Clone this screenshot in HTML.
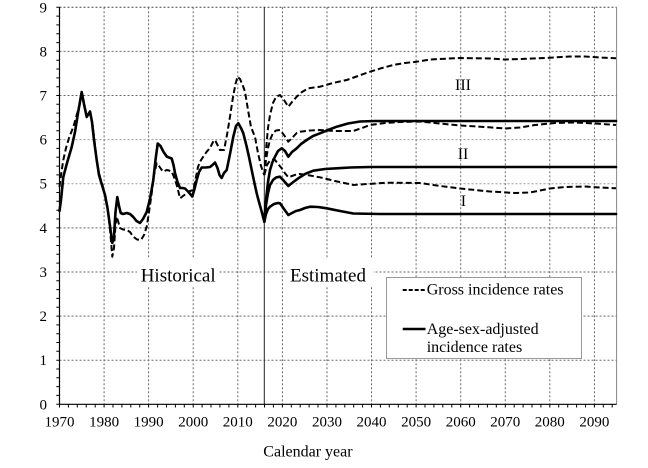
<!DOCTYPE html>
<html>
<head>
<meta charset="utf-8">
<style>
html,body{margin:0;padding:0;background:#fff;}
svg{display:block;}
text{font-family:"Liberation Serif","Times New Roman",serif;fill:#000;}
</style>
</head>
<body>
<svg width="648" height="468" viewBox="0 0 648 468" xmlns="http://www.w3.org/2000/svg">
<rect x="0" y="0" width="648" height="468" fill="#fff"/>

<!-- grid -->
<g stroke="#6a6a6a" stroke-width="1" stroke-dasharray="2 2" fill="none">
  <line x1="59.5" y1="7.3" x2="616.6" y2="7.3" stroke="#444"/>
  <line x1="59.5" y1="51.4" x2="616.6" y2="51.4"/>
  <line x1="59.5" y1="95.5" x2="616.6" y2="95.5"/>
  <line x1="59.5" y1="139.6" x2="616.6" y2="139.6" stroke="#999"/>
  <line x1="59.5" y1="183.7" x2="616.6" y2="183.7" stroke="#999"/>
  <line x1="59.5" y1="227.9" x2="616.6" y2="227.9"/>
  <line x1="59.5" y1="272" x2="616.6" y2="272"/>
  <line x1="59.5" y1="316.1" x2="616.6" y2="316.1"/>
  <line x1="59.5" y1="360.2" x2="616.6" y2="360.2"/>
  <line x1="104.1" y1="7.3" x2="104.1" y2="404.3"/>
  <line x1="148.6" y1="7.3" x2="148.6" y2="404.3"/>
  <line x1="193.2" y1="7.3" x2="193.2" y2="404.3"/>
  <line x1="237.8" y1="7.3" x2="237.8" y2="404.3"/>
  <line x1="282.4" y1="7.3" x2="282.4" y2="404.3"/>
  <line x1="327.0" y1="7.3" x2="327.0" y2="404.3"/>
  <line x1="371.5" y1="7.3" x2="371.5" y2="404.3"/>
  <line x1="416.1" y1="7.3" x2="416.1" y2="404.3"/>
  <line x1="460.7" y1="7.3" x2="460.7" y2="404.3"/>
  <line x1="505.3" y1="7.3" x2="505.3" y2="404.3"/>
  <line x1="549.8" y1="7.3" x2="549.8" y2="404.3"/>
  <line x1="594.4" y1="7.3" x2="594.4" y2="404.3"/>
</g>

<!-- right border -->
<line x1="616.6" y1="7.3" x2="616.6" y2="404.3" stroke="#888" stroke-width="1"/>

<!-- white boxes behind region labels -->
<rect x="137" y="259" width="81" height="28" fill="#fff"/>
<rect x="286" y="259" width="87" height="28" fill="#fff"/>
<text x="140.7" y="281.7" font-size="19">Historical</text>
<text x="290" y="281.7" font-size="19">Estimated</text>

<!-- 2016 vertical line -->
<line x1="264.3" y1="7.3" x2="264.3" y2="404.3" stroke="#222" stroke-width="1"/>

<!-- legend -->
<rect x="386.5" y="277.5" width="195" height="81" fill="#fff" stroke="#999" stroke-width="1"/>
<line x1="402.7" y1="290" x2="425.5" y2="290" stroke="#000" stroke-width="2" stroke-dasharray="4 2"/>
<text x="426.7" y="294.5" font-size="16">Gross incidence rates</text>
<line x1="402.7" y1="329" x2="425.5" y2="329" stroke="#000" stroke-width="2.6"/>
<text x="426.7" y="334" font-size="16">Age-sex-adjusted</text>
<text x="426.7" y="352" font-size="16">incidence rates</text>

<!-- scenario labels -->
<text x="455" y="90" font-size="16">III</text>
<text x="457.7" y="159" font-size="16">II</text>
<text x="460.7" y="206" font-size="16">I</text>

<!-- dashed: gross incidence -->
<g fill="none" stroke="#000" stroke-width="2" stroke-dasharray="6 3" stroke-linejoin="round" stroke-linecap="butt">
  <polyline points="59.5,187 61,175 63.3,160 66,148 69,138 73.3,127 77,114 80,103 81.7,93 84,105 86.7,117 89,114 90.5,113 92.5,124 95,145 97,163 100,177 103,187 106,200 108.5,215 110.5,235 112.3,256.7 114,248 115.5,225 116.7,216.7 118.3,222 120,228 123,229.5 126.7,230 130,232 133.3,236.7 137,239.5 141,240 144,235 146.7,226.7 149,212 151.7,193.3 154,175 156.7,163.3 159,166 161,169 163.3,171.7 166.7,170 169,170.5 171.7,171.7 174,177 176.7,185 178.5,192 180,198.3 183,196 186.7,193.3 190,191 193.3,190 196,177 198,167 200,161.7 203,157 206.7,151.7 210,148 213,142 215,140 217.5,145 220,150 224,150 227,135 230,116.7 233,97 235.5,84 237.5,76.7 240,79 243,86 245,91.7 248,110 251,127 255,137 258,153 261,166 264.3,175"/>
  <!-- III -->
  <polyline points="264.3,175 266,150 268,128 270,115 273,103 276,97 280,95 284,100 288.3,106.7 292,102 296.7,96.7 302,92 308.3,88.3 320,86.7 333,83 346.7,80 358,76 370,71.7 382,68 393.3,65 405,63 416.7,61.7 430,59.5 460,58 490,58.5 505,59.5 520,59 545,58 570,56.5 585,56.5 600,57.5 616,58.3"/>
  <!-- II -->
  <polyline points="264.3,175 266,160 268,148 270,140 273,133 276,130.5 280,130 284,135 288.3,141.7 292,138 296.7,133 300,131.7 310,130.5 320,130 335,131 353.3,131 362,128 370,125 385,123 400,122 420,121.5 440,123.5 460,125.5 485,127 505,128.5 520,127.5 535,125 555,123 575,122.5 595,123.5 616,125"/>
  <!-- I -->
  <polyline points="264.3,175 267,165 270,160.5 273,159.5 275,160 279,165 283,170 285,173.3 288.3,177.3 292,176 296,174.5 300,174 310,175.5 320,177.3 335,181 353.3,185 363.3,184.3 386.7,182.7 420,183 440,186 460,188.5 490,191.5 515,193 530,192.5 550,188.5 565,187 585,186.5 600,187.5 616,188.3"/>
</g>

<!-- solid: age-sex-adjusted -->
<g fill="none" stroke="#000" stroke-width="2.6" stroke-linejoin="round" stroke-linecap="round">
  <polyline points="59.5,211 61,200 63.3,177 67,163 71.7,147 75,132 78,113 81.7,92 84,104 86.7,117 88.5,114 90,111.5 92,122 94,140 96.7,160 99,175 101.7,184 105,195 107.5,208 110,226 112.3,243 114,236 115.5,212 117.3,197 118.8,205 120.7,213 123,214 126.7,213 130,214 133.3,217 136.5,221 140,223 143,219 146.7,212 150,199 153.3,180 155.5,160 157.7,143.5 160.5,146 163.3,151.5 166.7,156.5 169,157.5 171.7,158.5 173.5,165 175,173 177.5,182 180,188 182.5,188 185,188.5 188.5,192 192.3,196.5 194.5,189 196.7,180 199,172 201.7,167.5 206,167.5 210,167 212.5,165 215,162.5 217.5,168 219.5,175 221.7,178 224,173 226.7,170 230,154 233.3,136.7 236,126 238.3,123.3 241,128 243.3,133.3 246.7,146.7 249,157 251.7,170 254,181 256.7,193.3 259,202 261.7,211.7 264.3,221.7"/>
  <!-- III -->
  <polyline points="264.3,221.7 266,200 268,182 270,170 272.5,162 275,156.7 278,151 281.7,148.3 285,151 288.3,156.7 292,152 296.7,148.3 301,144 306.7,140 313,136 320,133.3 328,130 336.7,126.7 348,123.5 360,121.5 375,121 420,121 616,121"/>
  <!-- II -->
  <polyline points="264.3,221.7 266,205 268,193 270,185 273,180 276,177.5 280,176.7 284,181 288.3,186 292,183 298.3,178.3 305,174 313.3,170.7 325,169 336.7,168.3 350,167.5 370,167 616,167"/>
  <!-- I -->
  <polyline points="264.3,221.7 266,214 268,209 270,206.7 274,204 278,203 280,203.3 284,209 288.3,215 292,213 296,211 300,210 305,208 310,206.7 318,207 326.7,208.3 340,211 353.3,213.5 380,214 616,214"/>
</g>

<!-- axes -->
<line x1="59.5" y1="7.3" x2="59.5" y2="404.3" stroke="#000" stroke-width="1.2"/>
<line x1="59.5" y1="404.3" x2="616.6" y2="404.3" stroke="#000" stroke-width="1.2"/>

<!-- y ticks every 0.2 -->
<g stroke="#000" stroke-width="1">
  <path d="M56.3 7.3H59.5M56.3 16.1H59.5M56.3 24.9H59.5M56.3 33.8H59.5M56.3 42.6H59.5M56.3 51.4H59.5M56.3 60.2H59.5M56.3 69.0H59.5M56.3 77.9H59.5M56.3 86.7H59.5M56.3 95.5H59.5M56.3 104.3H59.5M56.3 113.1H59.5M56.3 122.0H59.5M56.3 130.8H59.5M56.3 139.6H59.5M56.3 148.4H59.5M56.3 157.2H59.5M56.3 166.1H59.5M56.3 174.9H59.5M56.3 183.7H59.5M56.3 192.5H59.5M56.3 201.3H59.5M56.3 210.2H59.5M56.3 219.0H59.5M56.3 227.9H59.5M56.3 236.7H59.5M56.3 245.5H59.5M56.3 254.3H59.5M56.3 263.1H59.5M56.3 272.0H59.5M56.3 280.8H59.5M56.3 289.6H59.5M56.3 298.4H59.5M56.3 307.2H59.5M56.3 316.1H59.5M56.3 324.9H59.5M56.3 333.7H59.5M56.3 342.5H59.5M56.3 351.3H59.5M56.3 360.2H59.5M56.3 369.0H59.5M56.3 377.8H59.5M56.3 386.6H59.5M56.3 395.4H59.5M56.3 404.3H59.5"/>
  <!-- x ticks every 2 years -->
  <path d="M59.5 404.3V407.5M68.4 404.3V407.5M77.3 404.3V407.5M86.2 404.3V407.5M95.2 404.3V407.5M104.1 404.3V407.5M113.0 404.3V407.5M121.9 404.3V407.5M130.8 404.3V407.5M139.7 404.3V407.5M148.6 404.3V407.5M157.6 404.3V407.5M166.5 404.3V407.5M175.4 404.3V407.5M184.3 404.3V407.5M193.2 404.3V407.5M202.1 404.3V407.5M211.0 404.3V407.5M219.9 404.3V407.5M228.9 404.3V407.5M237.8 404.3V407.5M246.7 404.3V407.5M255.6 404.3V407.5M264.5 404.3V407.5M273.4 404.3V407.5M282.4 404.3V407.5M291.3 404.3V407.5M300.2 404.3V407.5M309.1 404.3V407.5M318.0 404.3V407.5M327.0 404.3V407.5M335.9 404.3V407.5M344.8 404.3V407.5M353.7 404.3V407.5M362.6 404.3V407.5M371.5 404.3V407.5M380.4 404.3V407.5M389.3 404.3V407.5M398.3 404.3V407.5M407.2 404.3V407.5M416.1 404.3V407.5M425.0 404.3V407.5M433.9 404.3V407.5M442.8 404.3V407.5M451.8 404.3V407.5M460.7 404.3V407.5M469.6 404.3V407.5M478.5 404.3V407.5M487.4 404.3V407.5M496.3 404.3V407.5M505.3 404.3V407.5M514.2 404.3V407.5M523.1 404.3V407.5M532.0 404.3V407.5M540.9 404.3V407.5M549.8 404.3V407.5M558.7 404.3V407.5M567.7 404.3V407.5M576.6 404.3V407.5M585.5 404.3V407.5M594.4 404.3V407.5M603.3 404.3V407.5M612.2 404.3V407.5"/>
</g>

<!-- y labels -->
<g font-size="15" text-anchor="end">
  <text x="47" y="12.3">9</text>
  <text x="47" y="56.4">8</text>
  <text x="47" y="100.5">7</text>
  <text x="47" y="144.6">6</text>
  <text x="47" y="188.7">5</text>
  <text x="47" y="232.9">4</text>
  <text x="47" y="277">3</text>
  <text x="47" y="321.1">2</text>
  <text x="47" y="365.2">1</text>
  <text x="47" y="409.3">0</text>
</g>

<!-- x labels -->
<g font-size="15" text-anchor="middle">
  <text x="59.5" y="426.7">1970</text>
  <text x="104.1" y="426.7">1980</text>
  <text x="148.6" y="426.7">1990</text>
  <text x="193.2" y="426.7">2000</text>
  <text x="237.8" y="426.7">2010</text>
  <text x="282.4" y="426.7">2020</text>
  <text x="327.0" y="426.7">2030</text>
  <text x="371.5" y="426.7">2040</text>
  <text x="416.1" y="426.7">2050</text>
  <text x="460.7" y="426.7">2060</text>
  <text x="505.3" y="426.7">2070</text>
  <text x="549.8" y="426.7">2080</text>
  <text x="594.4" y="426.7">2090</text>
</g>

<text x="263.3" y="456.7" font-size="16">Calendar year</text>
</svg>
</body>
</html>
